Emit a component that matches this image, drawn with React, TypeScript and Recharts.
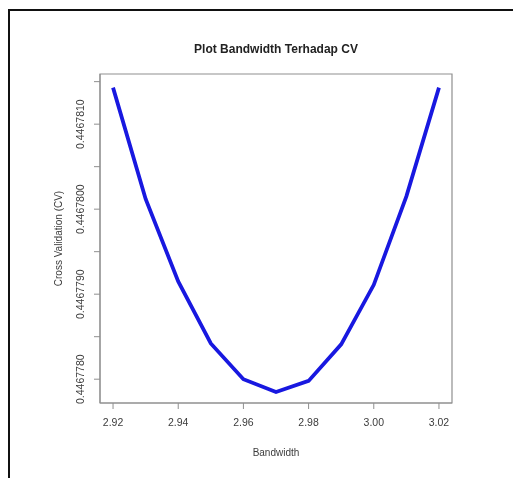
import { LineChart, Line, XAxis, YAxis, ReferenceArea } from 'recharts';

const bandwidth = [2.92, 2.93, 2.94, 2.95, 2.96, 2.97, 2.98, 2.99, 3.0, 3.01, 3.02];
const cv = [
  0.44678143, 0.44678012, 0.44677915, 0.44677842, 0.446778, 0.44677785,
  0.44677798, 0.44677841, 0.44677911, 0.44678015, 0.44678143,
];
const xTicks = [2.92, 2.94, 2.96, 2.98, 3.0, 3.02];
const yTicks = [0.446778, 0.4467785, 0.446779, 0.4467795, 0.44678, 0.4467805, 0.446781, 0.4467815];
const xDomain = [2.916, 3.024];
const yDomain = [0.44677772, 0.44678159];

const data = bandwidth.map((b, i) => ({ bandwidth: b, cv: cv[i] }));

const font = '"Liberation Sans", Arial, sans-serif';
const boxColor = '#8f8f8f';
const textColor = '#3c3c3c';

function YTick(props: any) {
  const { x, y, payload } = props;
  const v = payload.value as number;
  // R skips every other label here because they would overlap
  if (Math.round(v * 1e7) % 10 !== 0) return null;
  const cx = x - 14;
  return (
    <text
      x={cx}
      y={y}
      dy="0.35em"
      transform={`rotate(-90, ${cx}, ${y})`}
      textAnchor="middle"
      fontSize={10.5}
      fontFamily={font}
      fill={textColor}
    >
      {v.toFixed(7)}
    </text>
  );
}

export default function App() {
  return (
    <div>
      {/* page frame, only its left and top edges are visible */}
      <div
        style={{
          position: 'fixed',
          left: 8,
          top: 9,
          width: 600,
          height: 600,
          borderLeft: '2px solid #111',
          borderTop: '2px solid #111',
        }}
      />
      <LineChart
        width={504}
        height={468}
        data={data}
        margin={{ top: 66, right: 60, bottom: 33, left: 32 }}
        style={{ position: 'fixed', left: 8, top: 8 }}
      >
        <XAxis
          dataKey="bandwidth"
          type="number"
          domain={xDomain}
          ticks={xTicks}
          allowDataOverflow
          height={40}
          tickSize={6}
          tickMargin={10}
          tickFormatter={(v: number) => v.toFixed(2)}
          axisLine={{ stroke: boxColor }}
          tickLine={{ stroke: boxColor }}
          tick={{ fontSize: 10.5, fontFamily: font, fill: textColor }}
          label={{
            value: 'Bandwidth',
            position: 'bottom',
            offset: 6,
            fontSize: 10,
            fontFamily: font,
            fill: textColor,
          }}
        />
        <YAxis
          type="number"
          domain={yDomain}
          ticks={yTicks}
          allowDataOverflow
          width={60}
          tickSize={6}
          tickMargin={0}
          axisLine={{ stroke: boxColor }}
          tickLine={{ stroke: boxColor }}
          tick={<YTick />}
          label={(p: any) => {
            const vb = p.viewBox;
            const lx = vb.x + 18;
            const ly = vb.y + vb.height / 2;
            return (
              <text
                x={lx}
                y={ly}
                dy="0.35em"
                transform={`rotate(-90, ${lx}, ${ly})`}
                textAnchor="middle"
                fontSize={10}
                fontFamily={font}
                fill={textColor}
              >
                Cross Validation (CV)
              </text>
            );
          }}
        />
        <ReferenceArea
          x1={xDomain[0]}
          x2={xDomain[1]}
          y1={yDomain[0]}
          y2={yDomain[1]}
          fill="none"
          stroke={boxColor}
          strokeWidth={1.2}
          ifOverflow="visible"
          label={{
            value: 'Plot Bandwidth Terhadap CV',
            position: 'top',
            offset: 21,
            fontSize: 12,
            fontWeight: 'bold',
            fontFamily: font,
            fill: '#222',
          }}
        />
        <Line
          type="linear"
          dataKey="cv"
          stroke="#1818e0"
          strokeWidth={3.8}
          dot={false}
          isAnimationActive={false}
        />
      </LineChart>
    </div>
  );
}
